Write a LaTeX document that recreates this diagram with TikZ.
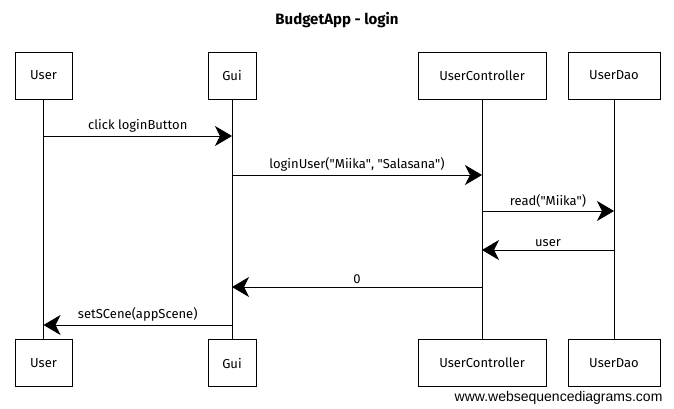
\documentclass[tikz,border=0pt]{standalone}
\usepackage{fontspec}
\setmainfont{Fira Sans}
\newfontfamily\footfont{Liberation Sans}
\usetikzlibrary{arrows.meta,positioning}

\newcommand{\qt}{\textquotedbl}

\tikzset{
  obj/.style={draw,line width=0.6pt,inner sep=0pt,minimum height=47pt,font=\fontsize{13}{15}\selectfont},
  life/.style={line width=0.5pt},
  msg/.style={->,line width=0.8pt},
  lbl/.style={above=0pt,font=\fontsize{13}{15}\selectfont}
}

\begin{document}
\begin{tikzpicture}[x=1pt,y=-1pt,>={Stealth[length=17pt,width=20pt,inset=5pt]}]
  \useasboundingbox (0,0) rectangle (674,408);
  \node[font=\fontsize{15}{17}\selectfont\bfseries] (title) at (337,20) {BudgetApp - login};

  % participants, top row
  \node[obj,minimum width=57pt]  (U) at (43.5,75.5) {User};
  \node[obj,minimum width=48pt]  (G) at (232,75.5)  {Gui};
  \node[obj,minimum width=128pt] (C) at (482,75.5)  {UserController};
  \node[obj,minimum width=92pt]  (D) at (614,75.5)  {UserDao};

  % participants, bottom row
  \node[obj,minimum width=57pt]  (U2) [below=240pt of U] {User};
  \node[obj,minimum width=48pt]  (G2) [below=240pt of G] {Gui};
  \node[obj,minimum width=128pt] (C2) [below=240pt of C] {UserController};
  \node[obj,minimum width=92pt]  (D2) [below=240pt of D] {UserDao};

  \draw[life] (U) -- (U2);
  \draw[life] (G) -- (G2);
  \draw[life] (C) -- (C2);
  \draw[life] (D) -- (D2);

  % message points on the lifelines
  \foreach \n/\y in {1/136,2/175,3/211,4/250,5/287,6/325}
    \foreach \l in {U,G,C,D}
      \coordinate (\l\n) at (\l |- 0,\y);

  \path (U1) edge[msg] node[lbl] {click loginButton}                    (G1)
        (G2) edge[msg] node[lbl] {loginUser(\qt Miika\qt, \qt Salasana\qt)} (C2)
        (C3) edge[msg] node[lbl] {read(\qt Miika\qt)}                   (D3)
        (D4) edge[msg] node[lbl] {user}                                 (C4)
        (C5) edge[msg] node[lbl] {0}                                    (G5)
        (G6) edge[msg] node[lbl] {setSCene(appScene)}                   (U6);

  \node[font=\footfont\fontsize{14}{16}\selectfont,anchor=base east] (web) at (666,401) {www.websequencediagrams.com};
\end{tikzpicture}
\end{document}
